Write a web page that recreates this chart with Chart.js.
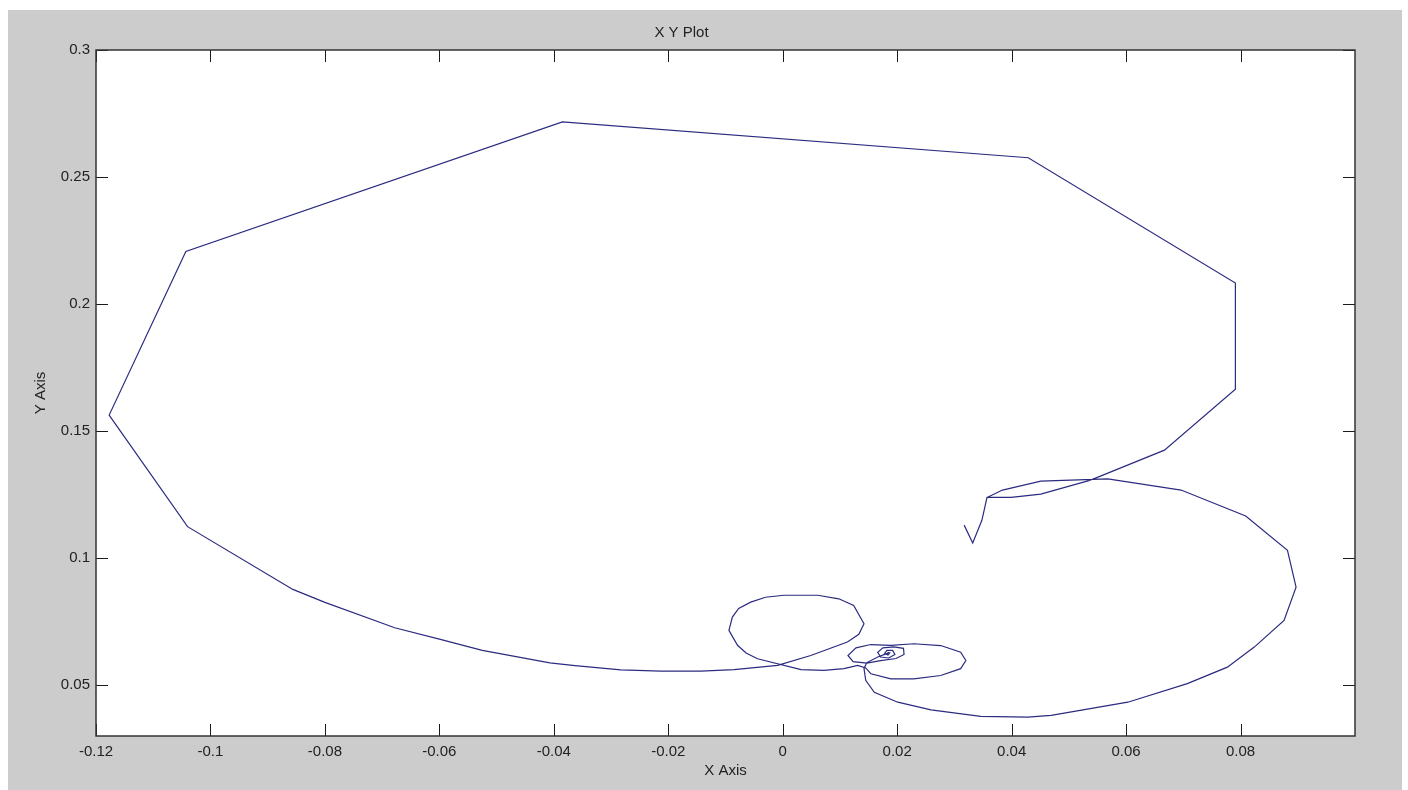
<!DOCTYPE html>
<html lang="en">
<head>
    <meta charset="UTF-8">
    <title>X Y Plot</title>
    <script src="https://cdn.jsdelivr.net/npm/chart.js"></script>
    <style>
        html, body {
            margin: 0;
            padding: 0;
            background: #ffffff;
        }
    </style>
</head>
<body>

    <canvas id="xyChart" width="1408" height="790"></canvas>

    <script>
        // trajectory, in drawing order
        const xValues = [
            0.0317, 0.0332, 0.0348, 0.0357,                         // hook
            0.0399, 0.0451, 0.0538, 0.0667, 0.0791, 0.0791,         // right side going up
            0.0429, -0.0385, -0.1043, -0.1177, -0.1040,             // big polygon
            -0.0856, -0.0800, -0.0678, -0.0600, -0.0525, -0.0407,
            -0.0363, -0.0283, -0.0213, -0.0143, -0.0085, -0.0009,
            0.0049, 0.0113, 0.0133, 0.0142, 0.0124, 0.0098,         // loop near 0
            0.0061, 0.0002, -0.0030, -0.0056, -0.0077, -0.0088,
            -0.0094, -0.0079, -0.0064, -0.0044,
            0.0032, 0.0072, 0.0107, 0.0131, 0.0145,
            0.0154, 0.0189, 0.0229, 0.0276, 0.0311, 0.0320,         // spiral
            0.0311, 0.0276, 0.0229, 0.0189, 0.0154, 0.0128,
            0.0114, 0.0123, 0.0147, 0.0171, 0.0198, 0.0212,
            0.0211, 0.0194, 0.0175, 0.0166, 0.0171, 0.0185,
            0.0196, 0.0192, 0.0182, 0.0178, 0.0184, 0.0187,
            0.0184, 0.0183, 0.0168, 0.0147, 0.0142, 0.0145,
            0.0160, 0.0201, 0.0259, 0.0346, 0.0428,                 // lower right loop
            0.0469, 0.0603, 0.0707, 0.0777, 0.0824, 0.0876,
            0.0897, 0.0882, 0.0809, 0.0696, 0.0568, 0.0451,
            0.0384, 0.0357
        ];
        const yValues = [
            0.1130, 0.1060, 0.1149, 0.1239,
            0.1239, 0.1252, 0.1307, 0.1425, 0.1665, 0.2083,
            0.2576, 0.2717, 0.2207, 0.1563, 0.1124,
            0.0877, 0.0826, 0.0726, 0.0681, 0.0637, 0.0588,
            0.0577, 0.0560, 0.0555, 0.0555, 0.0561, 0.0578,
            0.0617, 0.0670, 0.0700, 0.0742, 0.0814, 0.0840,
            0.0854, 0.0854, 0.0846, 0.0827, 0.0802, 0.0768,
            0.0716, 0.0657, 0.0627, 0.0604,
            0.0561, 0.0558, 0.0565, 0.0578, 0.0568,
            0.0545, 0.0525, 0.0525, 0.0538, 0.0565, 0.0597,
            0.0630, 0.0656, 0.0663, 0.0657, 0.0660, 0.0647,
            0.0617, 0.0593, 0.0587, 0.0597, 0.0605, 0.0621,
            0.0645, 0.0651, 0.0647, 0.0629, 0.0611, 0.0607,
            0.0621, 0.0637, 0.0637, 0.0625, 0.0619, 0.0627,
            0.0629, 0.0625, 0.0613, 0.0589, 0.0566, 0.0519,
            0.0472, 0.0433, 0.0403, 0.0377, 0.0374,
            0.0381, 0.0433, 0.0506, 0.0571, 0.0650, 0.0755,
            0.0886, 0.1031, 0.1166, 0.1268, 0.1312, 0.1303,
            0.1268, 0.1239
        ];

        const xTicks = [-0.12, -0.1, -0.08, -0.06, -0.04, -0.02, 0, 0.02, 0.04, 0.06, 0.08];
        const xTickLabels = ['-0.12', '-0.1', '-0.08', '-0.06', '-0.04', '-0.02', '0', '0.02', '0.04', '0.06', '0.08'];
        const yTicks = [0.05, 0.1, 0.15, 0.2, 0.25, 0.3];
        const yTickLabels = ['0.05', '0.1', '0.15', '0.2', '0.25', '0.3'];

        const points = xValues.map((x, i) => ({ x: x, y: yValues[i] }));

        const textColor = '#222222';
        const fontFamily = '"Liberation Sans", Arial, sans-serif';

        // grey figure, white axes, box with inward ticks on all four sides
        const matlabFrame = {
            id: 'matlabFrame',
            beforeDraw(chart) {
                const ctx = chart.ctx;
                const a = chart.chartArea;
                ctx.save();
                ctx.fillStyle = '#ffffff';
                ctx.fillRect(0, 0, chart.width, chart.height);
                ctx.fillStyle = '#cccccc';
                ctx.fillRect(8, 10, 1394, 780);
                ctx.fillStyle = '#ffffff';
                ctx.fillRect(a.left, a.top, a.right - a.left, a.bottom - a.top);
                ctx.restore();
            },
            afterDraw(chart) {
                const ctx = chart.ctx;
                const a = chart.chartArea;
                const xs = chart.scales.x;
                const ys = chart.scales.y;
                const len = 12;
                ctx.save();
                ctx.strokeStyle = '#1a1a1a';
                ctx.lineWidth = 1;
                ctx.beginPath();
                xTicks.forEach(v => {
                    const px = Math.round(xs.getPixelForValue(v)) + 0.5;
                    ctx.moveTo(px, a.bottom);
                    ctx.lineTo(px, a.bottom - len);
                    ctx.moveTo(px, a.top);
                    ctx.lineTo(px, a.top + len);
                });
                yTicks.forEach(v => {
                    const py = Math.round(ys.getPixelForValue(v)) + 0.5;
                    ctx.moveTo(a.left, py);
                    ctx.lineTo(a.left + len, py);
                    ctx.moveTo(a.right, py);
                    ctx.lineTo(a.right - len, py);
                });
                ctx.stroke();
                ctx.strokeStyle = '#333333';
                ctx.lineWidth = 1.5;
                ctx.strokeRect(a.left, a.top, a.right - a.left, a.bottom - a.top);
                ctx.restore();
            }
        };

        const ctx = document.getElementById('xyChart').getContext('2d');
        const xyChart = new Chart(ctx, {
            type: 'scatter',
            data: {
                datasets: [{
                    label: 'trajectory',
                    data: points,
                    showLine: true,
                    borderColor: '#2b2b80',
                    borderWidth: 1.2,
                    pointRadius: 0,
                    tension: 0,
                    fill: false
                }]
            },
            options: {
                responsive: false,
                animation: false,
                devicePixelRatio: 1,
                layout: {
                    padding: { left: 8, top: 10, right: 53, bottom: 0 }
                },
                plugins: {
                    legend: { display: false },
                    tooltip: { enabled: false },
                    title: {
                        display: true,
                        text: 'X Y Plot',
                        color: textColor,
                        font: { family: fontFamily, size: 15, weight: 'normal' },
                        padding: { top: 14, bottom: 8 }
                    }
                },
                scales: {
                    x: {
                        type: 'linear',
                        min: -0.12,
                        max: 0.1,
                        afterBuildTicks: axis => {
                            axis.ticks = xTicks.map(v => ({ value: v }));
                        },
                        afterFit: axis => {
                            axis.height = 54;
                        },
                        grid: { display: false, drawTicks: false },
                        border: { display: false },
                        ticks: {
                            autoSkip: false,
                            maxRotation: 0,
                            padding: 7,
                            color: textColor,
                            font: { family: fontFamily, size: 15 },
                            callback: (value, index) => xTickLabels[index]
                        },
                        title: {
                            display: true,
                            text: 'X Axis',
                            color: textColor,
                            font: { family: fontFamily, size: 15 },
                            padding: { top: 0, bottom: 10 }
                        }
                    },
                    y: {
                        type: 'linear',
                        min: 0.03,
                        max: 0.3,
                        afterBuildTicks: axis => {
                            axis.ticks = yTicks.map(v => ({ value: v }));
                        },
                        afterFit: axis => {
                            axis.width = 88;
                        },
                        grid: { display: false, drawTicks: false },
                        border: { display: false },
                        ticks: {
                            autoSkip: false,
                            padding: 6,
                            color: textColor,
                            font: { family: fontFamily, size: 15 },
                            callback: (value, index) => yTickLabels[index]
                        },
                        title: {
                            display: true,
                            text: 'Y Axis',
                            color: textColor,
                            font: { family: fontFamily, size: 15 },
                            padding: { top: 24, bottom: 0 }
                        }
                    }
                }
            },
            plugins: [matlabFrame]
        });
    </script>

</body>
</html>
